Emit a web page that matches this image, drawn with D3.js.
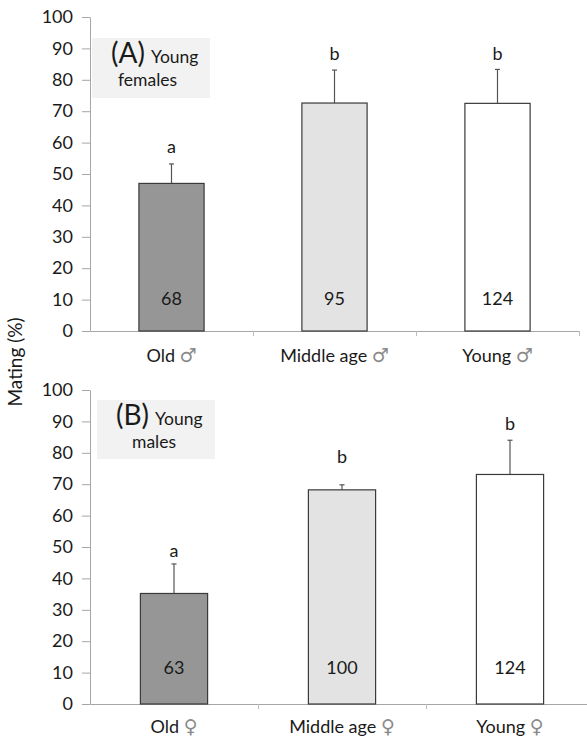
<!DOCTYPE html>
<html>
<head>
<meta charset="utf-8">
<script src="https://cdn.jsdelivr.net/npm/d3@7"></script>
<style>
  html, body { margin: 0; padding: 0; background: #fff; }
  svg text { font-family: Lato, "Open Sans", sans-serif; fill: #1a1a1a; }
</style>
</head>
<body>
<svg id="chart" width="587" height="738"></svg>
<script>
// ---------- data ----------
const categoriesA = ["Old", "Middle age", "Young"];
const symbolA = "\u2642";
const matingA = [47.0, 72.6, 72.5];
const errorA = [6.2, 10.5, 10.8];
const countsA = [68, 95, 124];
const lettersA = ["a", "b", "b"];
const letterValA = [56.8, 86.3, 86.3];

const categoriesB = ["Old", "Middle age", "Young"];
const symbolB = "\u2640";
const matingB = [35.2, 68.2, 73.1];
const errorB = [9.4, 1.6, 10.9];
const countsB = [63, 100, 124];
const lettersB = ["a", "b", "b"];
const letterValB = [46.9, 76.7, 87.3];

const yTicks = [0, 10, 20, 30, 40, 50, 60, 70, 80, 90, 100];
const barFills = ["#969696", "#e3e3e3", "#ffffff"];

const svg = d3.select("#chart");
const FS = 18;

function panel(cfg) {
  const g = svg.append("g");
  const y = d3.scaleLinear().domain([0, 100]).range([cfg.y0, cfg.y100]);
  const x = d3.scaleBand().domain(cfg.cats).range([cfg.x0, cfg.x1]).paddingInner(0.6).paddingOuter(0.3);
  const xb = d3.scaleLinear().domain([0, 3]).range([cfg.x0, cfg.x1]);

  // annotation box
  g.append("rect")
    .attr("x", cfg.box[0]).attr("y", cfg.box[1])
    .attr("width", cfg.box[2]).attr("height", cfg.box[3])
    .attr("fill", "#f2f2f2");
  const t = g.append("text").attr("x", cfg.box[0] + cfg.lblDx).attr("y", cfg.box[1] + 25);
  t.append("tspan").attr("font-size", 28).text(cfg.tag);
  t.append("tspan").attr("font-size", 17.5).attr("dx", 6).text("Young");
  g.append("text").attr("x", cfg.box[0] + cfg.lbl2Dx).attr("y", cfg.box[1] + 48)
    .attr("font-size", 17.5).text(cfg.sub);

  // y axis
  const ya = g.append("g").attr("transform", `translate(${cfg.x0},0)`)
    .call(d3.axisLeft(y).tickValues(yTicks).tickSize(8).tickSizeOuter(0).tickPadding(9));
  ya.select(".domain").attr("stroke", "#a6a6a6");
  ya.selectAll(".tick line").attr("stroke", "#a6a6a6");
  ya.selectAll(".tick text").attr("font-size", FS).attr("font-family", "Lato, sans-serif").attr("fill", "#1a1a1a");

  // bottom axis (boundaries)
  const xa = g.append("g").attr("transform", `translate(0,${cfg.y0})`)
    .call(d3.axisBottom(xb).tickValues([1, 2, 3]).tickSize(5).tickSizeOuter(0).tickFormat(""));
  xa.select(".domain").attr("stroke", "#a6a6a6");
  xa.selectAll(".tick line").attr("stroke", "#bdbdbd");

  // category labels
  const xl = g.append("g").attr("transform", `translate(0,${cfg.y0})`)
    .call(d3.axisBottom(x).tickSize(0).tickPadding(cfg.labPad).tickFormat(""));
  xl.select(".domain").remove();
  xl.selectAll(".tick text").remove();
  xl.selectAll(".tick").append("text")
    .attr("y", cfg.labPad + 14).attr("text-anchor", "middle")
    .each(function (d) {
      const s = d3.select(this);
      s.append("tspan").attr("font-size", FS).attr("font-family", "Lato, sans-serif").attr("fill", "#1a1a1a").text(d + " ");
      s.append("tspan").attr("font-size", 19).attr("font-family", "DejaVu Sans, sans-serif").attr("fill", "#8a8a8a").text(cfg.sym);
    });

  const data = cfg.cats.map((c, i) => ({ c, v: cfg.vals[i], e: cfg.errs[i], n: cfg.ns[i], l: cfg.letters[i], lv: cfg.letterVals[i], i }));

  // error bars
  g.selectAll(".err").data(data).join("line")
    .attr("x1", d => x(d.c) + x.bandwidth() / 2).attr("x2", d => x(d.c) + x.bandwidth() / 2)
    .attr("y1", d => y(d.v)).attr("y2", d => y(d.v + d.e))
    .attr("stroke", "#555").attr("stroke-width", 1.2);
  g.selectAll(".cap").data(data).join("line")
    .attr("x1", d => x(d.c) + x.bandwidth() / 2 - 2.5).attr("x2", d => x(d.c) + x.bandwidth() / 2 + 2.5)
    .attr("y1", d => y(d.v + d.e)).attr("y2", d => y(d.v + d.e))
    .attr("stroke", "#555").attr("stroke-width", 1.2);

  // bars
  g.selectAll(".bar").data(data).join("rect")
    .attr("x", d => x(d.c)).attr("width", x.bandwidth())
    .attr("y", d => y(d.v)).attr("height", d => y(0) - y(d.v))
    .attr("fill", d => barFills[d.i]).attr("stroke", "#3a3a3a").attr("stroke-width", 1.2);

  // counts
  g.selectAll(".cnt").data(data).join("text")
    .attr("x", d => x(d.c) + x.bandwidth() / 2).attr("y", y(0) - cfg.cntOff)
    .attr("text-anchor", "middle").attr("font-size", FS).text(d => d.n);

  // letters
  g.selectAll(".let").data(data).join("text")
    .attr("x", d => x(d.c) + x.bandwidth() / 2).attr("y", d => y(d.lv))
    .attr("text-anchor", "middle").attr("font-size", FS).text(d => d.l);
}

panel({ cats: categoriesA, sym: symbolA, vals: matingA, errs: errorA, ns: countsA, letters: lettersA, letterVals: letterValA,
  x0: 90, x1: 579, y0: 331, y100: 17, box: [92, 38, 118, 60], tag: "(A)", sub: "females", lblDx: 19, lbl2Dx: 26, cntOff: 26, labPad: 17 });
panel({ cats: categoriesB, sym: symbolB, vals: matingB, errs: errorB, ns: countsB, letters: lettersB, letterVals: letterValB,
  x0: 90, x1: 594, y0: 704, y100: 390, box: [97, 400, 118, 59], tag: "(B)", sub: "males", lblDx: 19, lbl2Dx: 35, cntOff: 30, labPad: 15 });

// shared y-axis title
svg.append("text").attr("transform", "translate(22,362) rotate(-90)")
  .attr("text-anchor", "middle").attr("font-size", 19).text("Mating (%)");
</script>
</body>
</html>
